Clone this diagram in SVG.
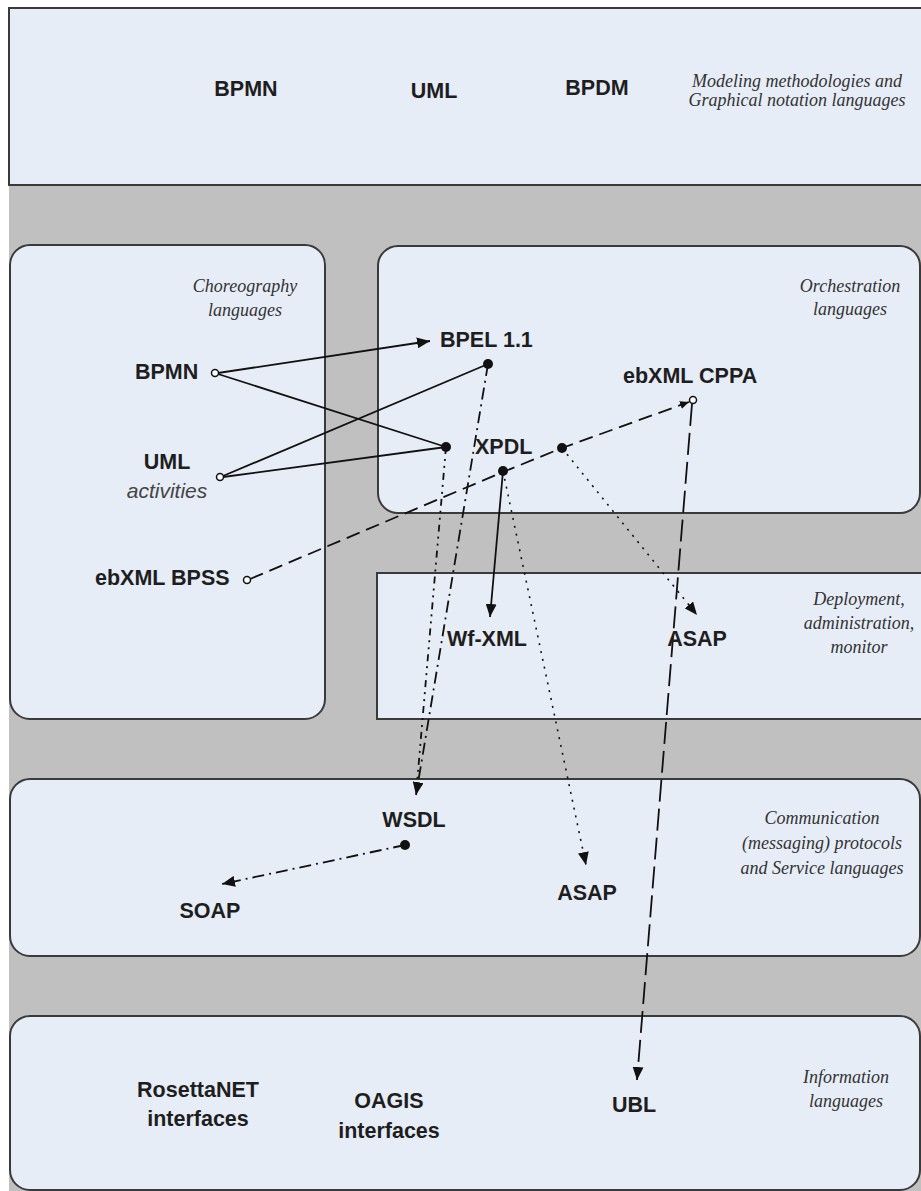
<svg xmlns="http://www.w3.org/2000/svg" width="921" height="1191" viewBox="0 0 921 1191">
<defs>
<style>
.box{fill:#e7edf7;stroke:#3a3a3a;stroke-width:2}
.lbl{font-family:"Liberation Sans",Arial,sans-serif;font-weight:bold;font-size:21.5px;fill:#1e1e1e}
.mid{text-anchor:middle}
.cat{font-family:"Liberation Serif","Times New Roman",serif;font-style:italic;font-size:18px;fill:#333;text-anchor:middle}
.sub{font-family:"Liberation Sans",Arial,sans-serif;font-style:italic;font-size:21px;fill:#444;text-anchor:middle}
.ln{fill:none;stroke:#111;stroke-width:1.8}
.solid{}
.dash{stroke-dasharray:14 7}
.long{stroke-dasharray:22 7}
.dashdot{stroke-dasharray:12 5 2 5}
.dashdotdot{stroke-dasharray:7 5 2 5 2 5}
.dot{stroke-dasharray:2 6;stroke-width:1.6}
.fdot{fill:#111}
.odot{fill:#fff;stroke:#111;stroke-width:1.5}
</style>
<marker id="arr" markerUnits="userSpaceOnUse" markerWidth="13" markerHeight="11" refX="13" refY="5.5" orient="auto">
<path d="M0,0 L13,5.5 L0,11 z" fill="#111"/>
</marker>
<marker id="arrs" markerUnits="userSpaceOnUse" markerWidth="9" markerHeight="8" refX="9" refY="4" orient="auto">
<path d="M0,0 L9,4 L0,8 z" fill="#111"/>
</marker>
</defs>
<rect x="0" y="0" width="921" height="1191" fill="#ffffff"/>
<rect x="9" y="8" width="920" height="1190" fill="#c0c0c0"/>

<g id="modeling">
<rect class="box" x="9" y="8" width="930" height="177"/>
<text class="lbl mid" x="246" y="96">BPMN</text>
<text class="lbl mid" x="434" y="98">UML</text>
<text class="lbl mid" x="597" y="95">BPDM</text>
<text class="cat" x="797" y="87">Modeling methodologies and</text>
<text class="cat" x="797" y="106">Graphical notation languages</text>
</g>

<g id="choreography">
<rect class="box" x="10" y="245" width="315" height="474" rx="20"/>
<text class="cat" x="245" y="292">Choreography</text>
<text class="cat" x="245" y="316">languages</text>
</g>

<g id="orchestration">
<rect class="box" x="378" y="246" width="542" height="267" rx="20"/>
<text class="cat" x="850" y="292">Orchestration</text>
<text class="cat" x="850" y="315">languages</text>
</g>

<g id="deployment">
<rect class="box" x="377" y="573" width="560" height="146"/>
<text class="cat" x="859" y="605">Deployment,</text>
<text class="cat" x="859" y="629">administration,</text>
<text class="cat" x="859" y="653">monitor</text>
</g>

<g id="communication">
<rect class="box" x="10" y="779" width="910" height="177" rx="20"/>
<text class="cat" x="822" y="824">Communication</text>
<text class="cat" x="822" y="849">(messaging) protocols</text>
<text class="cat" x="822" y="874">and Service languages</text>
</g>

<g id="information">
<rect class="box" x="10" y="1016" width="910" height="174" rx="20"/>
<text class="cat" x="846" y="1083">Information</text>
<text class="cat" x="846" y="1107">languages</text>
</g>

<g id="connectors">
<line class="ln solid" x1="218" y1="373" x2="430" y2="341" marker-end="url(#arr)"/>
<line class="ln solid" x1="218" y1="374" x2="446" y2="447"/>
<line class="ln solid" x1="223" y1="476" x2="488" y2="364"/>
<line class="ln solid" x1="223" y1="477" x2="446" y2="447"/>
<polyline class="ln dash" points="250,579 503,472 562,448 689,402" marker-end="url(#arrs)"/>
<line class="ln dashdot" x1="488" y1="364" x2="416" y2="795" marker-end="url(#arr)"/>
<line class="ln dashdotdot" x1="446" y1="447" x2="416" y2="795"/>
<line class="ln solid" x1="503" y1="471" x2="490" y2="617" marker-end="url(#arr)"/>
<line class="ln dot" x1="503" y1="471" x2="586" y2="865" marker-end="url(#arr)"/>
<line class="ln dot" x1="562" y1="448" x2="697" y2="615" marker-end="url(#arr)"/>
<line class="ln long" x1="692" y1="404" x2="637" y2="1080" marker-end="url(#arr)"/>
<line class="ln dashdot" x1="405" y1="845" x2="222" y2="884" marker-end="url(#arr)"/>
</g>

<g id="dots">
<circle class="fdot" cx="488" cy="364" r="5"/>
<circle class="fdot" cx="446" cy="447" r="5"/>
<circle class="fdot" cx="503" cy="471" r="5"/>
<circle class="fdot" cx="562" cy="448" r="5"/>
<circle class="fdot" cx="405" cy="845" r="5"/>
<circle class="odot" cx="215" cy="373" r="3.5"/>
<circle class="odot" cx="220" cy="477" r="3.5"/>
<circle class="odot" cx="247" cy="580" r="3.5"/>
<circle class="odot" cx="693" cy="400" r="3.5"/>
</g>

<g id="node-bpmn-c"><text class="lbl" x="135" y="379">BPMN</text></g>
<g id="node-uml-c"><text class="lbl mid" x="167" y="469">UML</text><text class="sub" x="167" y="498">activities</text></g>
<g id="node-bpss"><text class="lbl" x="95" y="585">ebXML BPSS</text></g>
<g id="node-bpel"><text class="lbl" x="440" y="347">BPEL 1.1</text></g>
<g id="node-xpdl"><text class="lbl" x="475" y="454">XPDL</text></g>
<g id="node-cppa"><text class="lbl" x="623" y="383">ebXML CPPA</text></g>
<g id="node-wfxml"><text class="lbl mid" x="487" y="646">Wf-XML</text></g>
<g id="node-asap-d"><text class="lbl mid" x="697" y="646">ASAP</text></g>
<g id="node-wsdl"><text class="lbl mid" x="414" y="827">WSDL</text></g>
<g id="node-soap"><text class="lbl mid" x="210" y="918">SOAP</text></g>
<g id="node-asap-c"><text class="lbl mid" x="587" y="900">ASAP</text></g>
<g id="node-rosetta"><text class="lbl mid" x="198" y="1097">RosettaNET</text><text class="lbl mid" x="198" y="1126">interfaces</text></g>
<g id="node-oagis"><text class="lbl mid" x="389" y="1108">OAGIS</text><text class="lbl mid" x="389" y="1138">interfaces</text></g>
<g id="node-ubl"><text class="lbl mid" x="634" y="1112">UBL</text></g>
</svg>
